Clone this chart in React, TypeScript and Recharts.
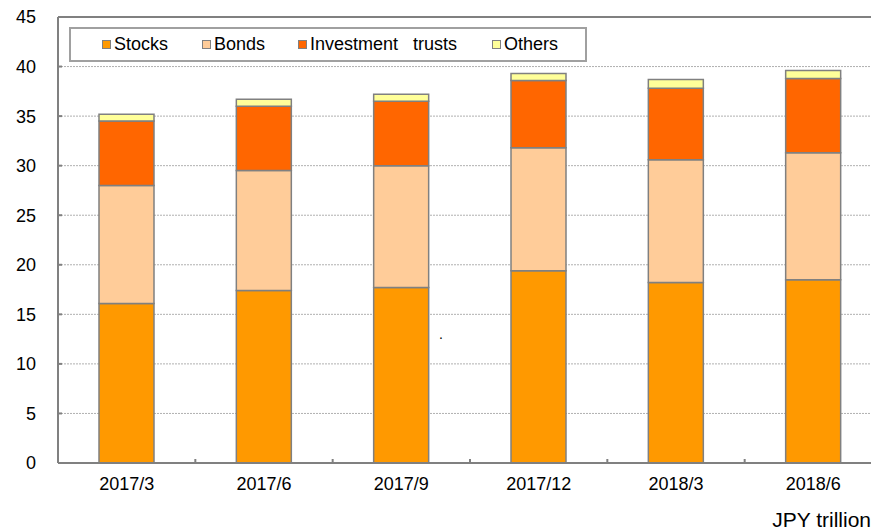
import React from "react";
import {
  BarChart,
  Bar,
  XAxis,
  YAxis,
  CartesianGrid,
  ReferenceLine,
} from "recharts";

const periods = ["2017/3", "2017/6", "2017/9", "2017/12", "2018/3", "2018/6"];
const stocks = [16.1, 17.4, 17.7, 19.4, 18.2, 18.5];
const bonds = [11.9, 12.1, 12.3, 12.4, 12.4, 12.8];
const investmentTrusts = [6.5, 6.5, 6.5, 6.8, 7.2, 7.5];
const others = [0.7, 0.7, 0.7, 0.7, 0.9, 0.8];
const yTicks = [0, 5, 10, 15, 20, 25, 30, 35, 40, 45];
const boundaryTicks = [1, 2, 3, 4, 5];

const series = [
  { key: "stocks", name: "Stocks", color: "#FF9900", left: 33 },
  { key: "bonds", name: "Bonds", color: "#FFCC99", left: 133 },
  { key: "trusts", name: "Investment   trusts", color: "#FF6600", left: 229 },
  { key: "others", name: "Others", color: "#FFFF99", left: 423 },
];

const rows = periods.map((p, i) => ({
  period: p,
  slot: i + 0.5, // middle of the category, for the boundary tick axis
  stocks: stocks[i],
  bonds: bonds[i],
  trusts: investmentTrusts[i],
  others: others[i],
}));

const GRAY = "#808080";
const FONT = "'Liberation Sans', Arial, sans-serif";

// legend box drawn on top of the plot, like the original
function LegendBox() {
  return (
    <div
      style={{
        position: "absolute",
        left: 69,
        top: 27,
        width: 514,
        height: 31,
        border: "2px solid #a0a0a0",
        background: "#fff",
        fontSize: 18,
        color: "#000",
      }}
    >
      {series.map((s) => (
        <div
          key={s.key}
          style={{
            position: "absolute",
            left: s.left - 2,
            top: 0,
            height: 31,
            display: "flex",
            alignItems: "center",
          }}
        >
          <span
            style={{
              width: 7,
              height: 7,
              background: s.color,
              border: "1.5px solid " + GRAY,
              marginRight: 3,
              display: "inline-block",
            }}
          />
          <span style={{ whiteSpace: "pre" }}>{s.name}</span>
        </div>
      ))}
    </div>
  );
}

export default function App() {
  return (
    <div style={{ position: "absolute", left: 0, top: 0, width: 871, height: 531, background: "#fff", fontFamily: FONT }}>
      <style>{"body{margin:0;overflow:hidden}"}</style>
      <BarChart
        width={871}
        height={531}
        data={rows}
        margin={{ top: 17, right: -11, left: 18, bottom: 38 }}
        barSize={55}
      >
        <CartesianGrid vertical={false} stroke="#b0b0b0" strokeDasharray="2 1" />
        <XAxis
          xAxisId="cat"
          dataKey="period"
          type="category"
          height={30}
          axisLine={{ stroke: GRAY, strokeWidth: 2 }}
          tickLine={false}
          tickSize={0}
          tickMargin={14}
          interval={0}
          tick={{ fill: "#000", fontSize: 18, fontFamily: FONT }}
        />
        <XAxis
          xAxisId="edge"
          dataKey="slot"
          type="number"
          domain={[0, 6]}
          ticks={boundaryTicks}
          interval={0}
          mirror
          axisLine={false}
          tickSize={4}
          tickLine={{ stroke: GRAY, strokeWidth: 2 }}
          tickFormatter={() => ""}
          allowDataOverflow
        />
        <YAxis
          width={40}
          domain={[0, 45]}
          ticks={yTicks}
          interval={0}
          axisLine={{ stroke: GRAY, strokeWidth: 2 }}
          tickLine={{ stroke: GRAY, strokeWidth: 2 }}
          tickSize={-4}
          tickMargin={26}
          tick={{ fill: "#000", fontSize: 18, fontFamily: FONT }}
        />
        <ReferenceLine xAxisId="cat" y={45} stroke={GRAY} strokeWidth={2} />
        {series.map((s) => (
          <Bar
            key={s.key}
            xAxisId="cat"
            dataKey={s.key}
            name={s.name}
            stackId="a"
            fill={s.color}
            stroke={GRAY}
            strokeWidth={1.5}
            isAnimationActive={false}
          />
        ))}
      </BarChart>
      <LegendBox />
      <div style={{ position: "absolute", left: 439, top: 326, fontSize: 14, color: "#000" }}>.</div>
      <div style={{ position: "absolute", right: 0, top: 508, fontSize: 21, color: "#000", whiteSpace: "nowrap" }}>
        JPY trillion
      </div>
    </div>
  );
}
